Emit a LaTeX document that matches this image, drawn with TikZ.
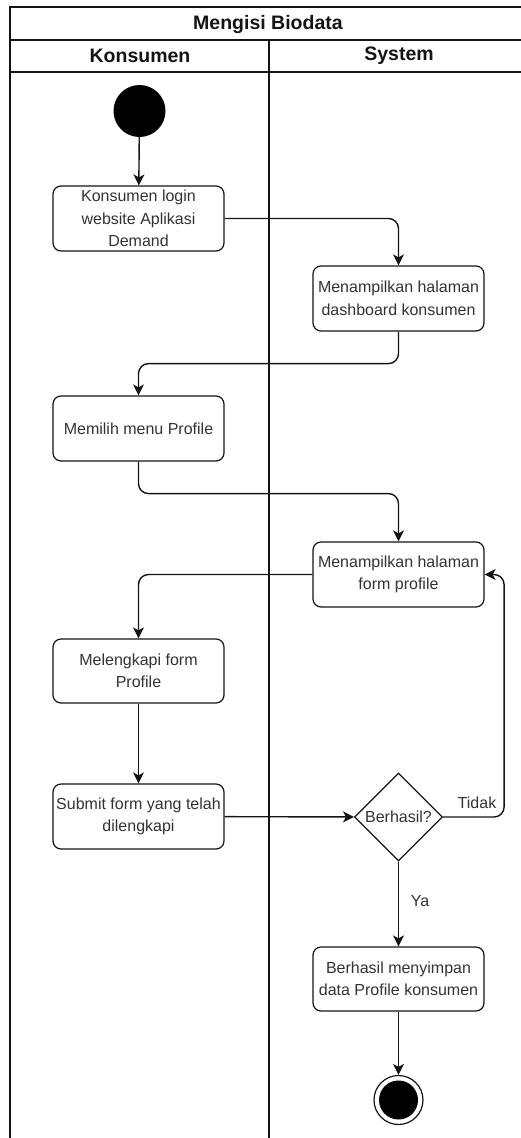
\documentclass[tikz,border=0pt]{standalone}
\usepackage{fontspec}
\setmainfont{Liberation Sans}
\usetikzlibrary{shapes.geometric,arrows.meta}
\definecolor{ink}{RGB}{20,20,20}
\definecolor{txt}{RGB}{51,51,51}
\begin{document}
\begin{tikzpicture}[x=1pt,y=-1pt,
  lane/.style={draw=ink,line width=1.6pt},
  act/.style={draw=ink,line width=1.2pt,rounded corners=8pt,minimum width=171pt,
    minimum height=65pt,inner sep=0pt,align=center,text=txt,
    font=\fontsize{16}{22.5}\selectfont},
  decision/.style={diamond,draw=ink,line width=1.2pt,minimum width=88pt,
    minimum height=88pt,inner sep=0pt,text=txt,font=\fontsize{16}{22}\selectfont},
  flow/.style={draw=ink,line width=1.4pt,rounded corners=10pt,
    -{Stealth[length=11pt,width=11pt,inset=3pt]}},
  lbl/.style={text=txt,font=\fontsize{16}{22}\selectfont,inner sep=0pt},
  head/.style={text=ink,font=\fontsize{19.5}{22}\selectfont\bfseries,inner sep=0pt}]
\useasboundingbox (0,0) rectangle (520,1138);
\fill[white] (0,0) rectangle (520,1138);

% swimlane frame
\draw[lane] (10,1150) -- (10,7) -- (530,7) -- (530,1150);
\draw[lane] (10,40) -- (530,40);
\draw[lane] (10,72) -- (530,72);
\draw[lane] (269,40) -- (269,1150);
\node[head] (title) at (268,24) {Mengisi Biodata};
\node[head] (laneA) at (140,56) {Konsumen};
\node[head] (laneB) at (399,56) {System};

% activities
\node[circle,fill=black,minimum size=52pt,inner sep=0pt] (start) at (139.5,111) {};
\node[act] (b1) at (138.5,218.5) {Konsumen login\\website Aplikasi\\Demand};
\node[act] (b2) at (398.5,298.5) {Menampilkan halaman\\dashboard konsumen};
\node[act] (b3) at (138.5,428.5) {Memilih menu Profile};
\node[act] (b4) at (398.5,574.5) {Menampilkan halaman\\form profile};
\node[act,minimum height=64pt] (b5) at (138.5,671) {Melengkapi form\\Profile};
\node[act] (b6) at (138.5,816.5) {Submit form yang telah\\dilengkapi};
\node[decision] (dec) at (398.5,817) {Berhasil?};
\node[act,minimum height=64pt] (b7) at (398.5,979) {Berhasil menyimpan\\data Profile konsumen};
\node[circle,draw=ink,line width=1.2pt,fill=white,minimum size=49pt,inner sep=0pt] (end) at (398.5,1100) {};
\node[circle,fill=black,minimum size=39pt,inner sep=0pt] (endcore) at (end.center) {};

% control flow
\draw[flow] (start) -- (b1);
\draw[flow] (b1.east) -| (b2.north);
\draw[flow] (b2.south) -- ++(0,32) -| (b3.north);
\draw[flow] (b3.south) -- ++(0,32) -| (b4.north);
\draw[flow] (b4.west) -| (b5.north);
\draw[flow] (b5) -- (b6);
\draw[flow] (b6) -- (dec);
\draw[flow] (dec.east) -- ++(61,0) |- (b4.east);
\draw[flow] (dec.south) -- (b7.north);
\draw[flow] (b7) -- (end);
\node[lbl] (tidak) at (477,803) {Tidak};
\node[lbl] (ya) at (420,901) {Ya};
\end{tikzpicture}
\end{document}
